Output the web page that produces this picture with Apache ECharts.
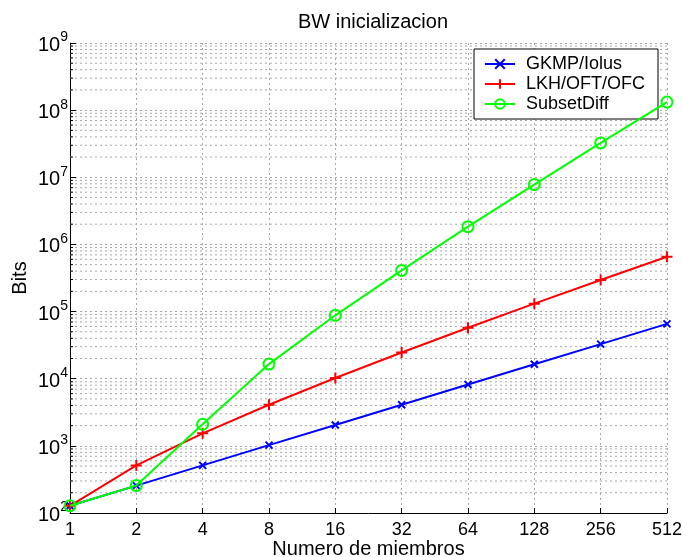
<!DOCTYPE html>
<html>
<head>
<meta charset="utf-8">
<script src="https://cdn.jsdelivr.net/npm/echarts@6/dist/echarts.min.js"></script>
<style>
  html, body { margin: 0; padding: 0; background: #fff; }
  #chart { width: 682px; height: 557px; }
</style>
</head>
<body>
<div id="chart"></div>
<script>
// Group sizes (number of members) on a base-2 log axis
const members = [1, 2, 4, 8, 16, 32, 64, 128, 256, 512];

// Initialization bandwidth in bits for each scheme
const gkmpIolus  = [128, 256, 512, 1024, 2048, 4096, 8192, 16384, 32768, 65536];
const lkhOftOfc  = [128, 512, 1536, 4096, 10240, 24576, 57344, 131072, 294912, 655360];
const subsetDiff = [128, 256, 2100, 16500, 88000, 410000, 1840000, 7800000, 32500000, 132000000];

const seriesNames = ['GKMP/Iolus', 'LKH/OFT/OFC', 'SubsetDiff'];

// Minor grid values (2..9 x 10^k) between 10^2 and 10^9
const minorBits = [];
for (let k = 2; k < 9; k++) {
  for (let m = 2; m <= 9; m++) minorBits.push(m * Math.pow(10, k));
}

const pairs = (ys) => members.map((x, i) => [x, ys[i]]);

const FONT = 'Liberation Sans, Arial, Helvetica, sans-serif';
const GRID_COLOR = '#a8a8a8';

const crossPath = 'path://M0,0L10,10M10,0L0,10';
const plusPath = 'path://M5,0L5,10M0,5L10,5';

const chart = echarts.init(document.getElementById('chart'), null, { renderer: 'canvas' });

chart.setOption({
  animation: false,
  backgroundColor: '#ffffff',
  textStyle: { fontFamily: FONT },
  title: {
    text: 'BW inicializacion',
    left: 368,
    textAlign: 'center',
    top: 7,
    textStyle: { fontFamily: FONT, fontSize: 20, fontWeight: 'normal', color: '#000' }
  },
  grid: { left: 70, right: 15, top: 43, bottom: 44, containLabel: false, outerBoundsMode: 'none' },
  legend: {
    data: seriesNames,
    orient: 'vertical',
    left: 474,
    top: 49,
    padding: [6, 13, 6, 10],
    itemGap: 2,
    itemWidth: 30,
    itemHeight: 12,
    backgroundColor: '#ffffff',
    borderColor: '#000000',
    borderWidth: 1,
    borderRadius: 0,
    textStyle: { fontFamily: FONT, fontSize: 18, color: '#000', padding: [0, 0, 0, 6] }
  },
  xAxis: {
    type: 'log',
    logBase: 2,
    min: 1,
    max: 512,
    name: 'Numero de miembros',
    nameLocation: 'middle',
    nameMoveOverlap: false,
    nameGap: 26,
    nameTextStyle: { fontFamily: FONT, fontSize: 20, color: '#000' },
    axisLine: { show: true, lineStyle: { color: '#000', width: 1 } },
    axisTick: { show: true, inside: true, length: 5, lineStyle: { color: '#000' } },
    axisLabel: {
      margin: 8,
      fontFamily: FONT,
      fontSize: 18,
      color: '#000',
      formatter: (v) => String(Math.round(v))
    },
    splitLine: { show: true, lineStyle: { color: GRID_COLOR, type: [2, 3], width: 1 } }
  },
  yAxis: {
    type: 'log',
    logBase: 10,
    min: 100,
    max: 1e9,
    name: 'Bits',
    nameLocation: 'middle',
    nameMoveOverlap: false,
    nameGap: 40,
    nameTextStyle: { fontFamily: FONT, fontSize: 20, color: '#000' },
    axisLine: { show: true, lineStyle: { color: '#000', width: 1 } },
    axisTick: { show: true, inside: true, length: 6, lineStyle: { color: '#000' } },
    axisLabel: {
      margin: 2,
      color: '#000',
      formatter: (v) => '{b|10}{e|' + Math.round(Math.log10(v)) + '}',
      rich: {
        b: { fontFamily: FONT, fontSize: 20, color: '#000', verticalAlign: 'bottom' },
        e: { fontFamily: FONT, fontSize: 14, color: '#000', verticalAlign: 'bottom', padding: [0, 0, 11, 0] }
      }
    },
    splitLine: { show: true, lineStyle: { color: GRID_COLOR, type: [2, 3], width: 1 } }
  },
  series: [
    {
      // minor dotted grid and short inward minor ticks on the Bits axis
      type: 'custom',
      name: 'minor',
      silent: true,
      z: 1,
      data: minorBits,
      renderItem: (params, api) => {
        const v = api.value(0);
        const a = api.coord([members[0], v]);
        const b = api.coord([members[members.length - 1], v]);
        return {
          type: 'group',
          children: [
            {
              type: 'line',
              shape: { x1: a[0], y1: a[1], x2: b[0], y2: b[1] },
              style: { stroke: GRID_COLOR, lineWidth: 1, lineDash: [2, 3] }
            },
            {
              type: 'line',
              shape: { x1: a[0], y1: a[1], x2: a[0] + 3, y2: a[1] },
              style: { stroke: '#000', lineWidth: 1 }
            }
          ]
        };
      },
      encode: { y: 0 }
    },
    {
      name: seriesNames[0],
      type: 'line',
      z: 3,
      data: pairs(gkmpIolus),
      color: '#0000ff',
      lineStyle: { color: '#0000ff', width: 2 },
      symbol: crossPath,
      symbolSize: 7,
      showAllSymbol: true,
      itemStyle: { color: 'none', borderColor: '#0000ff', borderWidth: 2 }
    },
    {
      name: seriesNames[1],
      type: 'line',
      z: 4,
      data: pairs(lkhOftOfc),
      color: '#ff0000',
      lineStyle: { color: '#ff0000', width: 2 },
      symbol: plusPath,
      symbolSize: 11,
      showAllSymbol: true,
      itemStyle: { color: 'none', borderColor: '#ff0000', borderWidth: 2 }
    },
    {
      name: seriesNames[2],
      type: 'line',
      z: 5,
      data: pairs(subsetDiff),
      color: '#00ff00',
      lineStyle: { color: '#00ff00', width: 2 },
      symbol: 'circle',
      symbolSize: 11,
      showAllSymbol: true,
      itemStyle: { color: 'none', borderColor: '#00ff00', borderWidth: 2 }
    }
  ]
});
</script>
</body>
</html>
